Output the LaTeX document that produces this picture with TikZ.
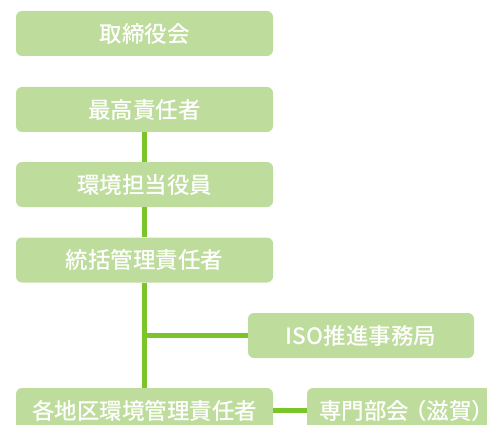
\documentclass[tikz,border=0pt]{standalone}
\usepackage{fontspec}
\newfontfamily\jp{Noto Sans CJK JP}[UprightFont={* Medium}]
\definecolor{boxgreen}{RGB}{190,220,156}
\definecolor{linegreen}{RGB}{122,198,42}
\tikzset{
  orgbox/.style={fill=boxgreen, rounded corners=6pt, text=white, font=\jp\fontsize{22.5}{25}\selectfont, inner sep=0pt, minimum height=45pt},
  wide/.style={minimum width=257pt},
  link/.style={draw=linegreen, line width=5pt},
  boxtext/.style={text=white, font=\jp\fontsize{22.5}{25}\selectfont, inner sep=0pt}
}
\begin{document}
\begin{tikzpicture}[x=1pt,y=1pt]
\useasboundingbox (0,0) rectangle (487,-425);
\clip (0,0) rectangle (487,-425);
\node[orgbox,wide] (b1) at (144.5,-33.5) {取締役会};
\node[orgbox,wide] (b2) at (144.5,-109.5) {最高責任者};
\node[orgbox,wide] (b3) at (144.5,-184.5) {環境担当役員};
\node[orgbox,wide] (b4) at (144.5,-260) {統括管理責任者};
\node[orgbox,minimum width=226pt] (iso) at (361,-335.5) {ISO推進事務局};
\node[orgbox,wide] (b6) at (144.5,-410.5) {各地区環境管理責任者};
\node[orgbox,minimum width=190pt] (b7) at (402,-410.5) {};
\node[boxtext,anchor=west] (b7t) at (319,-410.5) {専門部会\kern-5pt（滋賀）\kern-10pt};
\draw[link] (b2.south) -- (b3.north);
\draw[link] (b3.south) -- (b4.north);
\draw[link] (b4.south) -- (b6.north);
\draw[link] (b4.south |- iso.west) -- (iso.west);
\draw[link] (b6.east) -- (b7.west);
\end{tikzpicture}
\end{document}
